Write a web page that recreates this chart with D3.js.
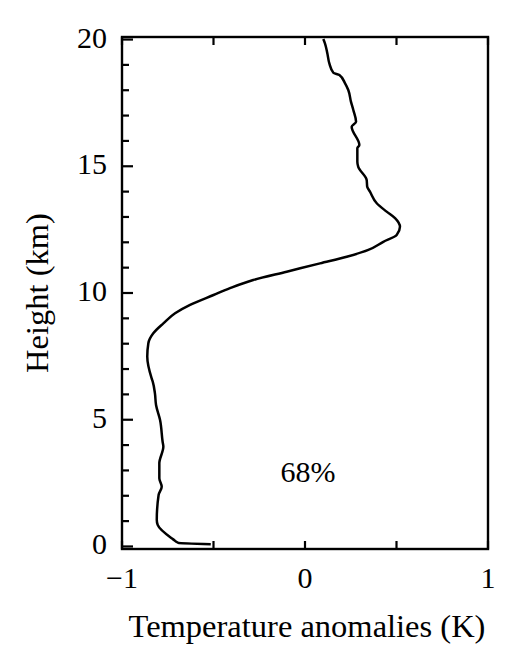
<!DOCTYPE html>
<html><head><meta charset="utf-8">
<script src="https://cdn.jsdelivr.net/npm/d3@7"></script>
<style>body{margin:0;background:#fff}svg{display:block}text{font-family:"Liberation Serif","DejaVu Serif",serif;fill:#000}</style>
</head><body>
<script>
// Temperature anomaly profile (K) vs height (km)
const anomalies = [-0.515,-0.692,-0.72,-0.805,-0.81,-0.80,-0.783,-0.796,-0.796,-0.774,-0.778,-0.792,-0.814,-0.820,-0.832,-0.838,-0.862,-0.856,-0.829,-0.774,-0.71,-0.628,-0.50,-0.41,-0.283,-0.10,0.082,0.228,0.346,0.428,0.501,0.519,0.492,0.446,0.392,0.355,0.34,0.337,0.291,0.286,0.286,0.297,0.255,0.279,0.264,0.251,0.237,0.219,0.188,0.155,0.133,0.122,0.109,0.10];
const heights   = [0.09,0.14,0.28,0.85,1.05,2.03,2.36,2.69,3.28,3.94,4.13,4.99,5.58,6.04,6.5,6.63,7.49,8.02,8.41,8.80,9.2,9.53,9.92,10.19,10.51,10.84,11.17,11.43,11.70,12.02,12.29,12.61,12.95,13.21,13.54,14.0,14.19,14.46,14.98,15.18,15.71,15.84,16.56,16.76,17.22,17.55,18.0,18.27,18.6,18.69,19.06,19.46,19.85,20.02];
const xTicks = [-1,-0.5,0,0.5,1];
const xTickLabels = ["\u22121","","0","","1"];
const yMajor = [0,5,10,15,20];
const yMinor = d3.range(0,21,1);
const annotation = "68%";
const xTitle = "Temperature anomalies (K)";
const yTitle = "Height (km)";

const W=515,H=669;
const L=122,R=488,T=37,B=549;
const x=d3.scaleLinear().domain([-1,1]).range([L,R]);
const y=d3.scaleLinear().domain([-0.1,20.1]).range([B,T]);

const svg=d3.select("body").append("svg").attr("width",W).attr("height",H);

svg.append("rect").attr("x",L).attr("y",T).attr("width",R-L).attr("height",B-T)
  .attr("fill","none").attr("stroke","#000").attr("stroke-width",2.4);

const ax=svg.append("g");
xTicks.forEach((t,i)=>{
  ax.append("line").attr("x1",x(t)).attr("x2",x(t)).attr("y1",B).attr("y2",B-8).attr("stroke","#000").attr("stroke-width",2.2);
  ax.append("line").attr("x1",x(t)).attr("x2",x(t)).attr("y1",T).attr("y2",T+8).attr("stroke","#000").attr("stroke-width",2.2);
  if(xTickLabels[i]) ax.append("text").attr("x",x(t)).attr("y",588).attr("text-anchor","middle").attr("font-size",30).text(xTickLabels[i]);
});
yMinor.forEach(t=>{
  const major=yMajor.includes(t);
  ax.append("line").attr("x1",L).attr("x2",L+(major?11:7)).attr("y1",y(t)).attr("y2",y(t)).attr("stroke","#000").attr("stroke-width",2.2);
});
yMajor.forEach(t=>{
  ax.append("text").attr("x",107).attr("y",y(t)+8).attr("text-anchor","end").attr("font-size",30).text(t);
});

const line=d3.line().x((d,i)=>x(anomalies[i])).y((d,i)=>y(heights[i])).curve(d3.curveMonotoneY);
svg.append("path").datum(heights).attr("d",line).attr("fill","none").attr("stroke","#000").attr("stroke-width",2.5).attr("stroke-linejoin","round");

svg.append("text").attr("x",308).attr("y",481.5).attr("text-anchor","middle").attr("font-size",30).text(annotation);

svg.append("text").attr("x",307).attr("y",637).attr("text-anchor","middle").attr("font-size",32.5).text(xTitle);
svg.append("text").attr("transform","translate(48,293) rotate(-90)").attr("text-anchor","middle").attr("font-size",32.5).text(yTitle);
</script>
</body></html>
